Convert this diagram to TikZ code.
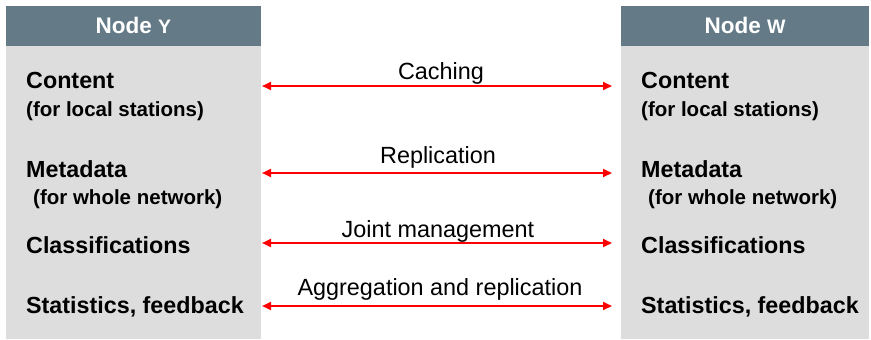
\documentclass[tikz,border=0pt]{standalone}
\usepackage{fontspec}
\setmainfont{Liberation Sans}
\usetikzlibrary{arrows.meta}
\definecolor{hdr}{HTML}{647B87}
\definecolor{body}{HTML}{DDDDDD}
\tikzset{
  hdrbox/.style={fill=hdr, draw=none},
  bodybox/.style={fill=body, draw=none},
  hdrtext/.style={text=white, font=\fontsize{22.5}{26}\selectfont\bfseries, anchor=base, inner sep=0pt},
  item/.style={font=\fontsize{23.3}{26}\selectfont\bfseries, anchor=base west, inner sep=0pt},
  sub/.style={font=\fontsize{20.5}{24}\selectfont\bfseries, anchor=base west, inner sep=0pt},
  lbl/.style={font=\fontsize{23.4}{26}\selectfont, anchor=base, inner sep=0pt},
  link/.style={draw=red, line width=2.2pt, {Triangle[length=9pt,width=8pt]}-{Triangle[length=9pt,width=8pt]}}
}
\begin{document}
\begin{tikzpicture}[x=1pt,y=-1pt]
\useasboundingbox (0,0) rectangle (871,340);
% panels
\fill[bodybox] (6,46) rectangle (261,339);
\fill[hdrbox] (6,6) rectangle (261,46);
\fill[bodybox] (621,46) rectangle (869,339);
\fill[hdrbox] (621,6) rectangle (869,46);
\node[hdrtext] (hy) at (133.5,34) {Node {\fontsize{19.5}{20}\selectfont Y}};
\node[hdrtext] (hw) at (745,34) {Node {\fontsize{19.5}{20}\selectfont W}};
% left items
\node[item] (ly1) at (26,88) {Content};
\node[sub] (ly1s) at (26,116) {(for local stations)};
\node[item] (ly2) at (26,177) {Metadata};
\node[sub] (ly2s) at (33,204) {(for whole network)};
\node[item] (ly3) at (26,253) {Classifications};
\node[item] (ly4) at (26,313) {Statistics, feedback};
% right items
\node[item] (rw1) at (641,88) {Content};
\node[sub] (rw1s) at (641,116) {(for local stations)};
\node[item] (rw2) at (641,177) {Metadata};
\node[sub] (rw2s) at (648,204) {(for whole network)};
\node[item] (rw3) at (641,253) {Classifications};
\node[item] (rw4) at (641,313) {Statistics, feedback};
% arrow ends
\coordinate (a1l) at (262,86);  \coordinate (a1r) at (612,86);
\coordinate (a2l) at (262,173); \coordinate (a2r) at (612,173);
\coordinate (a3l) at (262,243); \coordinate (a3r) at (612,243);
\coordinate (a4l) at (262,306); \coordinate (a4r) at (612,306);
\draw[link] (a1l) -- (a1r);
\draw[link] (a2l) -- (a2r);
\draw[link] (a3l) -- (a3r);
\draw[link] (a4l) -- (a4r);
\node[lbl] (t1) at (441,79) {Caching};
\node[lbl] (t2) at (438,163) {Replication};
\node[lbl] (t3) at (438,237) {Joint management};
\node[lbl] (t4) at (440,295) {Aggregation and replication};
\end{tikzpicture}
\end{document}
